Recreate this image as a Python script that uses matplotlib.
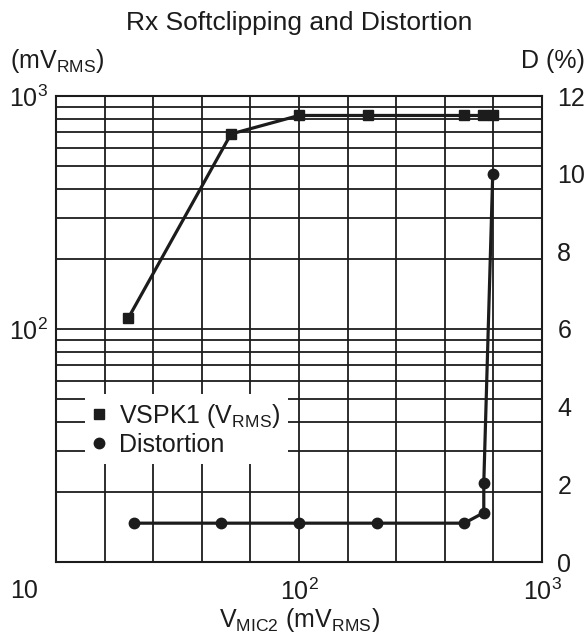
import matplotlib
matplotlib.use("Agg")
import matplotlib.pyplot as plt
from matplotlib.ticker import FixedLocator, LogLocator, NullFormatter, FixedFormatter
from matplotlib.transforms import ScaledTranslation
from matplotlib.lines import Line2D
import numpy as np

plt.rcParams['font.family'] = ['Liberation Sans', 'DejaVu Sans']
plt.rcParams['mathtext.fontset'] = 'custom'
plt.rcParams['mathtext.rm'] = 'Liberation Sans'
plt.rcParams['mathtext.it'] = 'Liberation Sans'

# ---- data ----
x_vspk = [19.8, 52.5, 100, 192, 477, 572, 628]
vspk = [111, 687, 825, 825, 825, 825, 825]
x_dist = [20.9, 47.7, 99.7, 209, 479, 576, 576, 627]
dist = [1.0, 1.0, 1.0, 1.0, 1.0, 1.27, 2.03, 10.0]

title = "Rx Softclipping and Distortion"
left_unit = r"(mV$_{\mathregular{RMS}}$)"
right_unit = "D (%)"
x_label = r"V$_{\mathregular{MIC2}}$ (mV$_{\mathregular{RMS}}$)"
x_tick_vals = [10, 100, 1000]
x_tick_labels = ["10", r"10$^{\mathregular{2}}$", r"10$^{\mathregular{3}}$"]
y_tick_vals = [100, 1000]
y_tick_labels = [r"10$^{\mathregular{2}}$", r"10$^{\mathregular{3}}$"]
d_ticks = [0, 2, 4, 6, 8, 10, 12]
legend_labels = [r"VSPK1 (V$_{\mathregular{RMS}}$)", "Distortion"]

FS = 18
INK = '#1c1c1c'

fig = plt.figure(figsize=(5.88, 6.37), dpi=100)
ax = fig.add_axes([56/588, 75/637, 486/588, 466/637])
ax.set_xscale('log')
ax.set_yscale('log')
ax.set_xlim(10, 1000)
ax.set_ylim(10, 1000)

# grid
ax.xaxis.set_major_locator(FixedLocator(x_tick_vals))
ax.xaxis.set_minor_locator(FixedLocator([10 ** (1 + 0.2 * k) for k in range(11)]))
ax.xaxis.set_minor_formatter(NullFormatter())
ax.xaxis.set_major_formatter(FixedFormatter(x_tick_labels))
ax.yaxis.set_major_locator(FixedLocator(y_tick_vals))
ax.yaxis.set_major_formatter(FixedFormatter(y_tick_labels))
ax.yaxis.set_minor_locator(LogLocator(base=10, subs=np.arange(2, 10)))
ax.yaxis.set_minor_formatter(NullFormatter())
ax.grid(True, which='both', color=INK, lw=1.3)
ax.tick_params(which='both', length=0)
ax.tick_params(axis='x', labelsize=FS, pad=12, colors=INK)
ax.tick_params(axis='y', labelsize=FS, pad=6, colors=INK)
for s in ax.spines.values():
    s.set_color(INK)
    s.set_linewidth(1.5)

# shift corner "10" label left
lbl = ax.get_xticklabels()[0]
lbl.set_transform(lbl.get_transform() + ScaledTranslation(-32/100, 0, fig.dpi_scale_trans))

ax.plot(x_vspk, vspk, color=INK, lw=2.3, marker='s', ms=7.5, zorder=3)

ax2 = ax.twinx()
ax2.set_ylim(0, 12)
ax2.set_yticks(d_ticks)
ax2.tick_params(length=0, labelsize=FS, pad=11, colors=INK)
for s in ax2.spines.values():
    s.set_visible(False)
ax2.plot(x_dist, dist, color=INK, lw=2.3, marker='o', ms=7.5, zorder=3)

handles = [Line2D([], [], ls='none', marker='s', ms=7.5, color=INK),
           Line2D([], [], ls='none', marker='o', ms=7.5, color=INK)]
leg = ax2.legend(handles, legend_labels, loc='upper left',
                 bbox_to_anchor=(29/486, (562-394)/466), fontsize=FS,
                 frameon=True, facecolor='white', edgecolor='none', framealpha=1,
                 fancybox=False, borderpad=0.3, handlelength=0.5, handletextpad=0.55,
                 labelspacing=0.12, borderaxespad=0)
for t in leg.get_texts():
    t.set_color(INK)

fig.text(299/588, 1 - 30/637, title, ha='center', va='baseline', fontsize=FS + 1, color=INK)
fig.text(10/588, 1 - 68/637, left_unit, ha='left', va='baseline', fontsize=FS, color=INK)
fig.text(585/588, 1 - 68/637, right_unit, ha='right', va='baseline', fontsize=FS, color=INK)
fig.text(299/588, 1 - 627/637, x_label, ha='center', va='baseline', fontsize=FS, color=INK)

fig.savefig('out.png', dpi=100)
